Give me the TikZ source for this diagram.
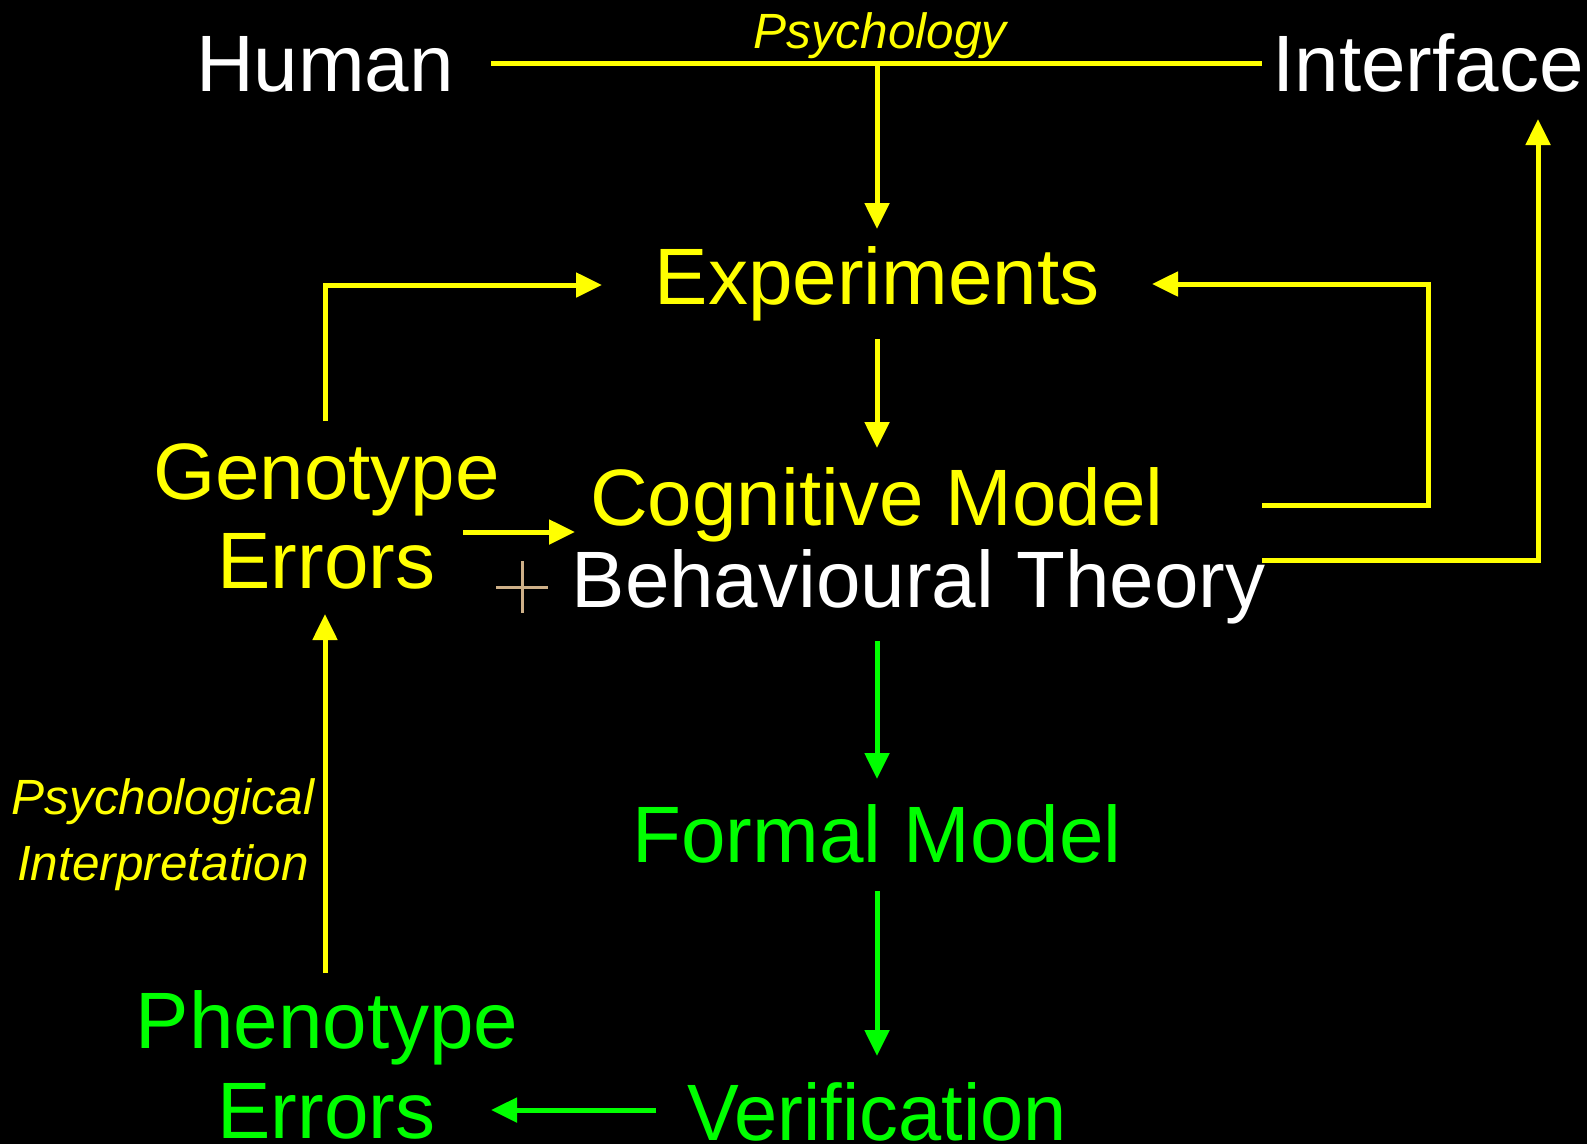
\documentclass[tikz,border=0pt]{standalone}
\usepackage{fontspec}
\setmainfont{Liberation Sans}
\usetikzlibrary{arrows.meta,calc}
\definecolor{yel}{RGB}{255,255,0}
\definecolor{grn}{RGB}{0,255,0}
\definecolor{plustan}{RGB}{206,176,136}
\begin{document}
\begin{tikzpicture}[x=1pt,y=-1pt,
  big/.style={font=\fontsize{80}{96}\selectfont, inner sep=0pt, anchor=base},
  lab/.style={font=\itshape\fontsize{49.5}{56}\selectfont, inner sep=0pt, anchor=base, text=yel},
  yline/.style={draw=yel, line width=5pt},
  gline/.style={draw=grn, line width=5pt},
  tip/.style={-{Triangle[length=26pt,width=24pt]}}
]
\fill[black] (0,0) rectangle (1587,1144);
\useasboundingbox (0,0) rectangle (1587,1144);

% top row
\node[big, text=white] (human) at (325,91) {Human};
\node[big, text=white] (iface) at (1428,91) {Interface};
\node[lab] (psy) at (880,48) {Psychology};

% central column
\node[big, text=yel] (exp) at (877,304) {Experiments};
\node[big, text=yel] (cog) at (877,525) {Cognitive Model};
\node[big, text=white] (beh) at (918.5,607) {Behavioural Theory};
\node[big, text=grn] (formal) at (877,862) {Formal Model};
\node[big, text=grn, xscale=0.97] (verif) at (877,1140) {Verification};

% left column
\node[big, text=yel] (geno) at (326.5,499) {Genotype};
\node[big, text=yel] (genoerr) at (326.5,588) {Errors};
\node[big, text=grn] (pheno) at (327,1048) {Phenotype};
\node[big, text=grn] (phenoerr) at (326.5,1138) {Errors};
\node[lab] (interpA) at (163,814) {Psychological};
\node[lab] (interpB) at (163,880) {Interpretation};

% Human -- Interface, with the branch down to Experiments
\coordinate (hl) at ($(human.base)+(166,-28)$);
\draw[yline] (hl) -- ($(iface.base)+(-166,-28)$);
\draw[yline,tip] (hl -| exp.base) -- ($(exp.base)+(0,-75)$);

% Experiments -> Cognitive Model
\draw[yline,tip] ($(exp.base)+(0,35)$) -- ($(cog.base)+(0,-77)$);

% Genotype Errors -> Experiments
\draw[yline,tip] ($(geno.base)+(-1.5,-78)$) |- ($(exp.base)+(-275,-19)$);

% Cognitive Model -> Experiments (feedback loop)
\draw[yline,tip] ($(cog.base)+(385,-20)$) -- ++(166,0) |- ($(exp.base)+(275,-20)$);

% Behavioural Theory -> Interface
\draw[yline,tip] ($(beh.base)+(343.5,-47)$) -| ($(iface.base)+(110,28)$);

% Genotype Errors -> Cognitive Model
\draw[yline,tip] ($(geno.base)+(136.5,33)$) -- ($(cog.base)+(-302,7)$);

% plus sign joining the two theories
\coordinate (plus) at ($(beh.base)+(-396.5,-20)$);
\draw[plustan, line width=3pt] ($(plus)+(-26,0)$) -- ($(plus)+(26,0)$)
  ($(plus)+(0,-26)$) -- ($(plus)+(0,26)$);

% green chain
\draw[gline,tip] ($(formal.base)+(0,-221)$) -- ($(formal.base)+(0,-83)$);
\draw[gline,tip] ($(formal.base)+(0,29)$) -- ($(verif.base)+(0,-84)$);
\draw[gline,tip] ($(verif.base)+(-221,-30)$) -- ($(phenoerr.base)+(164.5,-28)$);

% Phenotype Errors -> Genotype Errors
\draw[yline,tip] ($(pheno.base)+(-2,-75)$) -- ($(genoerr.base)+(-1.5,26)$);
\end{tikzpicture}
\end{document}
